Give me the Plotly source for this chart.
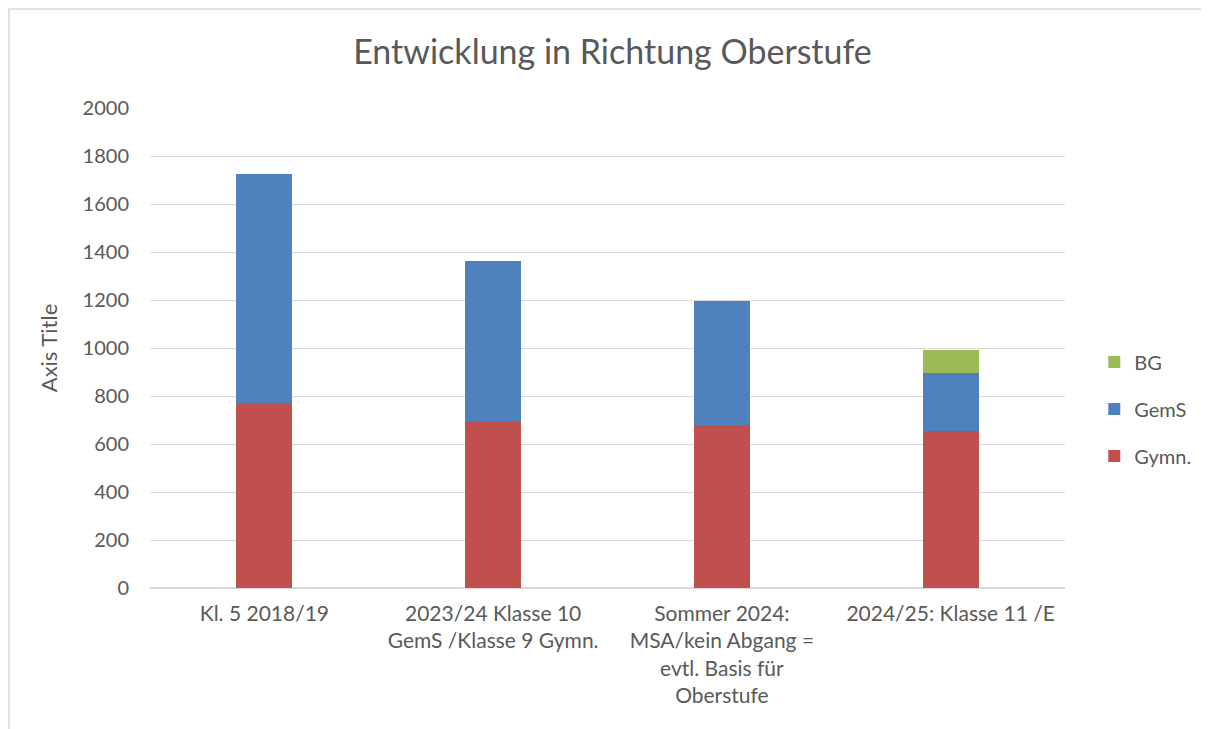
import plotly.graph_objects as go

categories = [
    "Kl. 5 2018/19",
    "2023/24 Klasse 10<br>GemS /Klasse 9 Gymn.",
    "Sommer 2024:<br>MSA/kein Abgang =<br>evtl. Basis für<br>Oberstufe",
    "2024/25: Klasse 11 /E",
]
gymn = [769, 696, 680, 654]
gems = [956, 665, 516, 240]
bg = [0, 0, 0, 99]

series = [("Gymn.", gymn, "#C0504D", 3), ("GemS", gems, "#4F81BD", 2), ("BG", bg, "#9BBB59", 1)]

fig = go.Figure()
for name, vals, col, rank in series:
    fig.add_trace(go.Bar(
        x=categories, y=vals, name=name, marker_color=col,
        marker_line_width=0, legendgroup=name, legendrank=rank,
    ))

font_family = "Lato, 'Open Sans', sans-serif"
L, R, T, B = 142, 152, 100, 149
plot_w = 1209 - L - R
plot_h = 729 - T - B
fig.update_layout(
    barmode="stack",
    bargap=0.755,
    width=1209, height=729,
    paper_bgcolor="white", plot_bgcolor="white",
    margin=dict(l=L, r=R, t=T, b=B),
    font=dict(family=font_family, color="#595959", size=20),
    title=dict(text="Entwicklung in Richtung Oberstufe", x=0.5, xanchor="center",
               y=1 - 44 / 729, yanchor="middle",
               font=dict(size=34, color="#595959", family=font_family)),
    legend=dict(x=1.032, y=(580 - 401) / plot_h, xanchor="left", yanchor="middle",
                traceorder="grouped", tracegroupgap=18,
                font=dict(size=20, color="#595959")),
    showlegend=True,
)
fig.update_yaxes(range=[0, 2000], dtick=200, gridcolor="#d9d9d9", gridwidth=1,
                 zeroline=True, zerolinecolor="#d9d9d9", showline=False,
                 ticklabelstandoff=20, tickfont=dict(size=20, color="#595959"),
                 title=dict(text="Axis Title", font=dict(size=22, color="#595959"), standoff=18))
fig.update_xaxes(showgrid=False, showline=False, tickfont=dict(size=21, color="#595959"),
                 ticklabelstandoff=11)
fig.add_shape(type="rect", xref="paper", yref="paper",
              x0=-(L - 1) / plot_w, x1=1 + (R + 20) / plot_w,
              y0=-(B + 20) / plot_h, y1=1 + (T - 1) / plot_h,
              line=dict(color="#d9d9d9", width=1.5), fillcolor="rgba(0,0,0,0)", layer="below")

fig.write_html("out.html")
